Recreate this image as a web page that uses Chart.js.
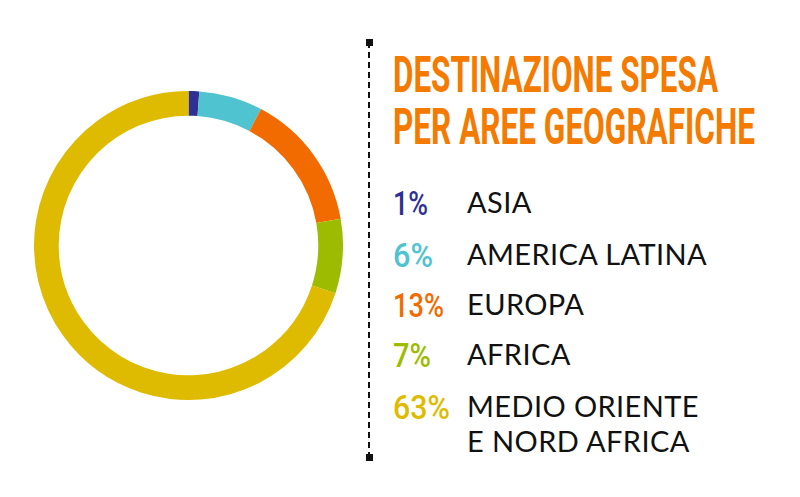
<!DOCTYPE html>
<html>
<head>
<meta charset="utf-8">
<script src="https://cdn.jsdelivr.net/npm/chart.js@4"></script>
<style>
  body { margin: 0; background: #fff; width: 800px; height: 497px; overflow: hidden; position: relative; }
  #chartBox { position: absolute; left: 34px; top: 91px; width: 309px; height: 309px; }
  #divider { position: absolute; left: 368px; top: 42px; height: 416px; border-left: 2px dashed #111; }
  .cap { position: absolute; left: 366px; width: 7px; height: 7px; background: #111; }
  .title { position: absolute; left: 393px; font-family: Roboto, sans-serif; font-weight: bold; color: #f47a00;
           font-size: 50px; line-height: 1; transform-origin: 0 0; white-space: nowrap; }
  .pct { position: absolute; left: 393px; font-family: Roboto, sans-serif; font-weight: 500;
         font-size: 34px; line-height: 1; white-space: nowrap; transform-origin: 0 0; }
  .lbl { position: absolute; left: 467px; font-family: Lato, sans-serif; font-size: 29px; color: #111;
         letter-spacing: 0.4px; line-height: 35px; white-space: nowrap; }
</style>
</head>
<body>
<div id="chartBox"><canvas id="donut"></canvas></div>
<div id="divider"></div>
<div class="cap" style="top:39px"></div>
<div class="cap" style="top:454px"></div>
<div class="title fit" data-w="325" style="top:50px">DESTINAZIONE SPESA</div>
<div class="title fit" data-w="362" style="top:102px">PER AREE GEOGRAFICHE</div>
<div id="legend"></div>
<script>
const labels = ['ASIA', 'AMERICA LATINA', 'EUROPA', 'AFRICA', 'MEDIO ORIENTE\nE NORD AFRICA'];
const values = [1, 6, 13, 7, 63];
const colors = ['#2e3192', '#4fc3cf', '#f26b00', '#9dbb00', '#dfbb00'];
const rowTops = [188, 240, 290, 340, 392];
const pctWidths = [35, 40, 51, 38, 57];

// legenda a destra
const legend = document.getElementById('legend');
labels.forEach((lab, i) => {
  const p = document.createElement('div');
  p.className = 'pct fit';
  p.dataset.w = pctWidths[i];
  p.style.top = (rowTops[i] - 2) + 'px';
  p.style.color = colors[i];
  p.textContent = values[i] + '%';
  legend.appendChild(p);
  const l = document.createElement('div');
  l.className = 'lbl';
  l.style.top = (rowTops[i] - 4) + 'px';
  l.innerHTML = lab.replace('\n', '<br>');
  legend.appendChild(l);
});

// testo condensato: stringe in orizzontale fino alla larghezza voluta
document.querySelectorAll('.fit').forEach(el => {
  const w = el.getBoundingClientRect().width;
  el.style.transform = 'scaleX(' + (el.dataset.w / w) + ')';
});

new Chart(document.getElementById('donut'), {
  type: 'doughnut',
  data: {
    labels: labels,
    datasets: [{
      data: values,
      backgroundColor: colors,
      borderWidth: 0
    }]
  },
  options: {
    responsive: true,
    maintainAspectRatio: false,
    animation: false,
    cutout: '84%',
    plugins: {
      legend: { display: false },
      tooltip: { enabled: false }
    }
  }
});
</script>
</body>
</html>
